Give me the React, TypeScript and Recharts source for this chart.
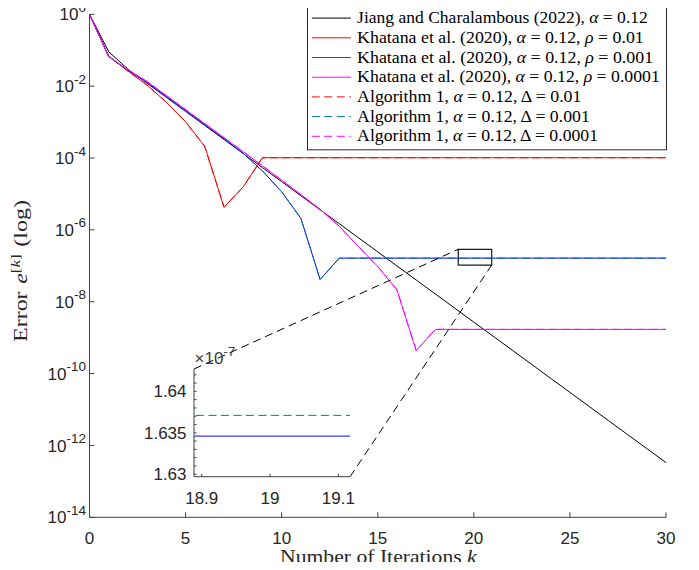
import React from "react";
import { LineChart, Line, XAxis, YAxis, ReferenceLine, ReferenceArea } from "recharts";

// ---------- data ----------
const iterations = [0, 1, 2, 3, 4, 5, 6, 7, 8, 9, 10, 11, 12, 13, 14, 15, 16, 17, 18, 19, 20, 21, 22, 23, 24, 25, 26, 27, 28, 29, 30];

const jiangCharalambous = [1, 0.0912, 0.0295, 0.012, 4.88e-3, 1.98e-3, 8.05e-4, 3.27e-4, 1.33e-4, 5.41e-5, 2.2e-5, 8.93e-6, 3.63e-6, 1.48e-6, 6.0e-7, 2.44e-7, 9.91e-8, 4.03e-8, 1.64e-8, 6.65e-9, 2.7e-9, 1.1e-9, 4.47e-10, 1.82e-10, 7.38e-11, 3.0e-11, 1.22e-11, 4.95e-12, 2.01e-12, 8.18e-13, 3.33e-13];

const khatanaRho01 = [1, 0.0676, 0.0263, 0.0107, 3.55e-3, 1.02e-3, 2.09e-4, 4.27e-6, 1.58e-5, 1.02e-4, 1.02e-4, 1.02e-4, 1.02e-4, 1.02e-4, 1.02e-4, 1.02e-4, 1.02e-4, 1.02e-4, 1.02e-4, 1.02e-4, 1.02e-4, 1.02e-4, 1.02e-4, 1.02e-4, 1.02e-4, 1.02e-4, 1.02e-4, 1.02e-4, 1.02e-4, 1.02e-4, 1.02e-4];

const khatanaRho001 = [1, 0.0676, 0.0275, 0.0126, 5.13e-3, 2.09e-3, 8.51e-4, 3.47e-4, 1.35e-4, 4.37e-5, 1.15e-5, 2.09e-6, 4.17e-8, 1.6346e-7, 1.6346e-7, 1.6346e-7, 1.6346e-7, 1.6346e-7, 1.6346e-7, 1.6346e-7, 1.6346e-7, 1.6346e-7, 1.6346e-7, 1.6346e-7, 1.6346e-7, 1.6346e-7, 1.6346e-7, 1.6346e-7, 1.6346e-7, 1.6346e-7, 1.6346e-7];

const khatanaRho0001 = [1, 0.0661, 0.0282, 0.01346, 5.47e-3, 2.22e-3, 9.04e-4, 3.67e-4, 1.49e-4, 6.07e-5, 2.41e-5, 9.57e-6, 3.72e-6, 1.26e-6, 3.39e-7, 9.55e-8, 2.14e-8, 4.37e-10, 1.7e-9, 1.7e-9, 1.7e-9, 1.7e-9, 1.7e-9, 1.7e-9, 1.7e-9, 1.7e-9, 1.7e-9, 1.7e-9, 1.7e-9, 1.7e-9, 1.7e-9];

const algDelta01 = [1, 0.0676, 0.0263, 0.0107, 3.55e-3, 1.02e-3, 2.09e-4, 4.27e-6, 1.58e-5, 1.021e-4, 1.021e-4, 1.021e-4, 1.021e-4, 1.021e-4, 1.021e-4, 1.021e-4, 1.021e-4, 1.021e-4, 1.021e-4, 1.021e-4, 1.021e-4, 1.021e-4, 1.021e-4, 1.021e-4, 1.021e-4, 1.021e-4, 1.021e-4, 1.021e-4, 1.021e-4, 1.021e-4, 1.021e-4];

const algDelta001 = [1, 0.0676, 0.0275, 0.0126, 5.13e-3, 2.09e-3, 8.51e-4, 3.47e-4, 1.35e-4, 4.37e-5, 1.15e-5, 2.09e-6, 4.17e-8, 1.6371e-7, 1.6371e-7, 1.6371e-7, 1.6371e-7, 1.6371e-7, 1.6371e-7, 1.6371e-7, 1.6371e-7, 1.6371e-7, 1.6371e-7, 1.6371e-7, 1.6371e-7, 1.6371e-7, 1.6371e-7, 1.6371e-7, 1.6371e-7, 1.6371e-7, 1.6371e-7];

const algDelta0001 = [1, 0.0661, 0.0282, 0.01346, 5.47e-3, 2.22e-3, 9.04e-4, 3.67e-4, 1.49e-4, 6.07e-5, 2.41e-5, 9.57e-6, 3.72e-6, 1.26e-6, 3.39e-7, 9.55e-8, 2.14e-8, 4.37e-10, 1.701e-9, 1.701e-9, 1.701e-9, 1.701e-9, 1.701e-9, 1.701e-9, 1.701e-9, 1.701e-9, 1.701e-9, 1.701e-9, 1.701e-9, 1.701e-9, 1.701e-9];

const xTicks = [0, 5, 10, 15, 20, 25, 30];
const yTicks = [1, 1e-2, 1e-4, 1e-6, 1e-8, 1e-10, 1e-12, 1e-14];

// zoom annotation (main-axes data coordinates)
const zoomBox = { x1: 19.19, x2: 20.93, y1: 1.05e-7, y2: 2.88e-7 };
const connectorA = [{ x: 5.44, y: 1.343e-10 }, { x: 19.19, y: 2.88e-7 }];
const connectorB = [{ x: 13.56, y: 1.35e-13 }, { x: 20.93, y: 1.05e-7 }];

// inset (units of 1e-7)
const insetX = [18.8, 19.0, 19.2];
const insetKhatana = [1.6346, 1.6346, 1.6346];
const insetAlgorithm = [1.6371, 1.6371, 1.6371];
const insetXTicks = [18.9, 19.0, 19.1];
const insetYMajor = [1.63, 1.635, 1.64];
const insetYMinor = [1.631, 1.632, 1.633, 1.634, 1.636, 1.637, 1.638, 1.639, 1.641, 1.642];

// ---------- styles ----------
const AXIS = "#404040";
const TICKFONT = "'Liberation Sans', Arial, sans-serif";
const SERIF = "'Liberation Serif', 'Times New Roman', serif";
const DASH = "8 4.5";
const TICKSIZE = 17;
const SUPSIZE = 13.5;

const data = iterations.map((k, i) => ({
  k,
  jiang: jiangCharalambous[i],
  kh1: khatanaRho01[i],
  kh2: khatanaRho001[i],
  kh3: khatanaRho0001[i],
  al1: algDelta01[i],
  al2: algDelta001[i],
  al3: algDelta0001[i],
}));

const insetData = insetX.map((x, i) => ({ x, kh: insetKhatana[i], al: insetAlgorithm[i] }));
const insetYTicks = [...insetYMajor, ...insetYMinor].sort((a, b) => a - b);

const I = ({ children }: { children: React.ReactNode }) => <tspan fontStyle="italic">{children}</tspan>;

const legendItems = [
  { color: "#000000", dash: undefined, width: 290.7, label: <>Jiang and Charalambous (2022), <I>α</I> = 0.12</> },
  { color: "#FF0000", dash: undefined, width: 286.7, label: <>Khatana et al. (2020), <I>α</I> = 0.12, <I>ρ</I> = 0.01</> },
  { color: "#3333FF", dash: undefined, width: 296, label: <>Khatana et al. (2020), <I>α</I> = 0.12, <I>ρ</I> = 0.001</> },
  { color: "#FF00FF", dash: undefined, width: 302.7, label: <>Khatana et al. (2020), <I>α</I> = 0.12, <I>ρ</I> = 0.0001</> },
  { color: "#FF0000", dash: DASH, width: 224.3, label: <>Algorithm 1, <I>α</I> = 0.12, Δ = 0.01</> },
  { color: "#0072BD", dash: DASH, width: 232.7, label: <>Algorithm 1, <I>α</I> = 0.12, Δ = 0.001</> },
  { color: "#FF00FF", dash: DASH, width: 241, label: <>Algorithm 1, <I>α</I> = 0.12, Δ = 0.0001</> },
];

// ---------- ticks ----------
const MainXTick = (props: any) => {
  const { x, y, payload } = props;
  return (
    <g>
      <line x1={x} x2={x} y1={y} y2={y - 5} stroke={AXIS} strokeWidth={1} />
      <text x={x} y={y + 26.6} textAnchor="middle" fontFamily={TICKFONT} fontSize={TICKSIZE} fill="#262626">
        {payload.value}
      </text>
    </g>
  );
};

const MainYTick = (props: any) => {
  const { x, y, payload } = props;
  const exp = Math.round(Math.log10(payload.value));
  return (
    <g>
      <line x1={x} x2={x + 5} y1={y} y2={y} stroke={AXIS} strokeWidth={1} />
      <text x={x - 3.5} y={y + 6.1} textAnchor="end" fontFamily={TICKFONT} fontSize={TICKSIZE} fill="#262626">
        <tspan>10</tspan>
        <tspan dy={-8.5} fontSize={SUPSIZE}>{String(exp)}</tspan>
      </text>
    </g>
  );
};

const InsetXTick = (props: any) => {
  const { x, y, payload } = props;
  return (
    <g>
      <line x1={x} x2={x} y1={y} y2={y - 3} stroke={AXIS} strokeWidth={1} />
      <text x={x} y={y + 27.7} textAnchor="middle" fontFamily={TICKFONT} fontSize={TICKSIZE} fill="#262626">
        {Number(payload.value).toFixed(1).replace(/\.0$/, "")}
      </text>
    </g>
  );
};

const InsetYTick = (props: any) => {
  const { x, y, payload } = props;
  const v = Number(payload.value);
  const major = insetYMajor.some((m) => Math.abs(m - v) < 1e-9);
  return (
    <g>
      <line x1={x} x2={x + 2.5} y1={y} y2={y} stroke={AXIS} strokeWidth={1} />
      {major && (
        <text x={x - 7.5} y={y + 6.1} textAnchor="end" fontFamily={TICKFONT} fontSize={TICKSIZE} fill="#262626">
          {String(parseFloat(v.toFixed(3)))}
        </text>
      )}
    </g>
  );
};

export default function App() {
  return (
    <div style={{ position: "relative", width: 699, height: 570, margin: "-8px 0 -8px -8px", background: "#fff" }}>
      <LineChart width={699} height={570} data={data} margin={{ top: 14.3, right: 33, bottom: 0, left: 0 }}>
        <XAxis
          dataKey="k"
          type="number"
          domain={[0, 30]}
          ticks={xTicks}
          height={52.7}
          tickSize={0}
          tickMargin={0}
          tickLine={false}
          axisLine={{ stroke: AXIS, strokeWidth: 1 }}
          tick={MainXTick}
          allowDataOverflow
        />
        <YAxis
          type="number"
          scale="log"
          domain={[1e-14, 1]}
          ticks={yTicks}
          width={89.5}
          tickSize={0}
          tickMargin={0}
          tickLine={false}
          axisLine={{ stroke: AXIS, strokeWidth: 1 }}
          tick={MainYTick}
          allowDataOverflow
          interval={0}
        />
        <Line dataKey="jiang" stroke="#000000" strokeWidth={1} dot={false} activeDot={false} isAnimationActive={false} />
        <Line dataKey="kh1" stroke="#FF0000" strokeWidth={1} dot={false} activeDot={false} isAnimationActive={false} />
        <Line dataKey="kh2" stroke="#0000FF" strokeWidth={1} dot={false} activeDot={false} isAnimationActive={false} />
        <Line dataKey="kh3" stroke="#FF00FF" strokeWidth={1} dot={false} activeDot={false} isAnimationActive={false} />
        <Line dataKey="al1" stroke="#FF0000" strokeWidth={1} strokeDasharray={DASH} dot={false} activeDot={false} isAnimationActive={false} />
        <Line dataKey="al2" stroke="#0072BD" strokeWidth={1} strokeDasharray={DASH} dot={false} activeDot={false} isAnimationActive={false} />
        <Line dataKey="al3" stroke="#FF00FF" strokeWidth={1} strokeDasharray={DASH} dot={false} activeDot={false} isAnimationActive={false} />
        <ReferenceArea
          x1={zoomBox.x1}
          x2={zoomBox.x2}
          y1={zoomBox.y1}
          y2={zoomBox.y2}
          fill="none"
          fillOpacity={0}
          stroke="#1a1a1a"
          strokeWidth={1.2}
          ifOverflow="visible"
        />
        <ReferenceLine segment={connectorA} stroke="#000" strokeWidth={1} strokeDasharray="8 5" ifOverflow="visible" />
        <ReferenceLine segment={connectorB} stroke="#000" strokeWidth={1} strokeDasharray="8 5" ifOverflow="visible" />
      </LineChart>

      {/* inset axes */}
      <div style={{ position: "absolute", left: 144, top: 360, width: 216, height: 160.7 }}>
        <LineChart width={216} height={160.7} data={insetData} margin={{ top: 9, right: 10, bottom: 0, left: 0 }}>
          <XAxis
            dataKey="x"
            type="number"
            domain={[18.8887, 19.1171]}
            ticks={insetXTicks}
            height={44}
            tickSize={0}
            tickMargin={0}
            tickLine={false}
            axisLine={{ stroke: AXIS, strokeWidth: 1 }}
            tick={InsetXTick}
            allowDataOverflow
            interval={0}
          />
          <YAxis
            type="number"
            domain={[1.6297, 1.6427]}
            ticks={insetYTicks}
            width={50}
            tickSize={0}
            tickMargin={0}
            tickLine={false}
            axisLine={{ stroke: AXIS, strokeWidth: 1 }}
            tick={InsetYTick}
            allowDataOverflow
            interval={0}
          />
          <Line dataKey="kh" stroke="#0000FF" strokeWidth={1} dot={false} activeDot={false} isAnimationActive={false} />
          <Line dataKey="al" stroke="#0072BD" strokeWidth={1} strokeDasharray={DASH} dot={false} activeDot={false} isAnimationActive={false} />
        </LineChart>
      </div>

      {/* titles and exponent label */}
      <svg width={699} height={570} style={{ position: "absolute", left: 0, top: 0, pointerEvents: "none", overflow: "visible" }}>
        <text x={378.4} y={562.7} textAnchor="middle" fontFamily={SERIF} fontSize={18} fill="#262626" textLength={196.7} lengthAdjust="spacingAndGlyphs">
          Number of Iterations <tspan fontStyle="italic">k</tspan>
        </text>
        <text
          transform="translate(27 271) rotate(-90)"
          textAnchor="middle"
          fontFamily={SERIF}
          fontSize={19}
          fill="#262626"
          textLength={142}
          lengthAdjust="spacingAndGlyphs"
        >
          <tspan>Error</tspan>
          <tspan dx={6} fontStyle="italic">e</tspan>
          <tspan dy={-7.5} fontSize={13.5}>[<tspan fontStyle="italic">k</tspan>]</tspan>
          <tspan dy={7.5} dx={6}>(log)</tspan>
        </text>
        <text x={194.5} y={363.5} fontFamily={TICKFONT} fontSize={17} fill="#404040">
          <tspan>×10</tspan>
          <tspan dy={-8} fontSize={13.5}>-7</tspan>
        </text>
      </svg>

      {/* legend */}
      <svg width={360} height={145} style={{ position: "absolute", left: 307.2, top: 6.2 }}>
        <rect x={0.5} y={0.5} width={359} height={143.3} fill="#fff" stroke="#262626" strokeWidth={1} />
        {legendItems.map((it, i) => {
          const cy = 12.1 + 19.7 * i;
          return (
            <g key={i}>
              <line x1={4.8} x2={43.8} y1={cy} y2={cy} stroke={it.color} strokeWidth={1} strokeDasharray={it.dash} />
              <text x={50.1} y={cy + 5} fontFamily={SERIF} fontSize={16.5} fill="#000" textLength={it.width} lengthAdjust="spacingAndGlyphs">
                {it.label}
              </text>
            </g>
          );
        })}
      </svg>
    </div>
  );
}
